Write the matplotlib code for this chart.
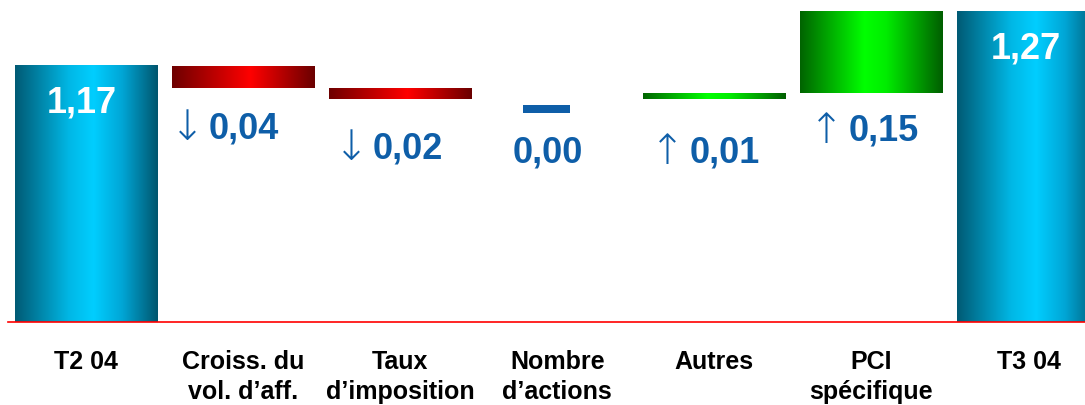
import numpy as np
import matplotlib
matplotlib.use("Agg")
import matplotlib.pyplot as plt
from matplotlib.colors import LinearSegmentedColormap

plt.rcParams["font.family"] = ["Liberation Sans", "DejaVu Sans"]

# ── Data ─────────────────────────────────────────────────────────────────────
categories = ["T2 04", "Croiss. du\nvol. d’aff.", "Taux\nd’imposition",
              "Nombre\nd’actions", "Autres", "PCI\nspécifique", "T3 04"]
start_value = 1.17
deltas = [-0.04, -0.02, 0.00, 0.01, 0.15]
end_value = 1.27

BASE = 0.70
BLUE = "#0e5ea8"

# gradient maps (left → right across each bar)
CYAN = LinearSegmentedColormap.from_list(
    "cyan", [(0, "#005a74"), (0.38, "#00b8e6"), (0.55, "#00ceff"),
             (0.75, "#00a6d6"), (1, "#00566e")])
RED = LinearSegmentedColormap.from_list(
    "red", [(0, "#6e0000"), (0.55, "#ff0000"), (1, "#6a0000")])
GREEN = LinearSegmentedColormap.from_list(
    "green", [(0, "#006400"), (0.45, "#00ff00"), (0.6, "#00ee00"), (1, "#005e00")])

# label nudges in pixels (dx, dy below the bar)
label_offsets = [(1, -40), (8, -49), (-9, -53), (10, -53), (12, -37)]
ARROW_DX = -57

BAR_W = 0.91


def fmt(v):
    return f"{abs(v):.2f}".replace(".", ",")


def gradient_bar(ax, x, y0, y1, cmap):
    grad = np.linspace(0, 1, 256).reshape(1, -1)
    ax.imshow(grad, cmap=cmap, aspect="auto", interpolation="bicubic",
              extent=(x - BAR_W / 2, x + BAR_W / 2, y0, y1), zorder=2)


fig = plt.figure(figsize=(10.85, 4.06), dpi=100)
ax = fig.add_axes([0, 81 / 406, 1, 325 / 406])

x = np.arange(len(categories))

# totals
gradient_bar(ax, x[0], BASE, start_value, CYAN)
gradient_bar(ax, x[-1], BASE, end_value, CYAN)
ax.annotate(fmt(start_value), (x[0], start_value), xytext=(-4, -36),
            textcoords="offset pixels", color="white", fontsize=26,
            fontweight="bold", ha="center", va="center", zorder=3)
ax.annotate(fmt(end_value), (x[-1], end_value), xytext=(-3, -37),
            textcoords="offset pixels", color="white", fontsize=26,
            fontweight="bold", ha="center", va="center", zorder=3)

# steps
level = start_value
for i, d in enumerate(deltas):
    xi = x[i + 1]
    new_level = level + d
    lo, hi = min(level, new_level), max(level, new_level)
    dx, dy = label_offsets[i]
    if d < 0:
        gradient_bar(ax, xi, lo, hi, RED)
        arrow = "↓"
    elif d > 0:
        gradient_bar(ax, xi, lo, hi, GREEN)
        arrow = "↑"
    else:
        ax.bar(xi - 0.07, 0.014, bottom=level - 0.026, width=0.3,
               color=BLUE, zorder=2)
        arrow = None
    ax.annotate(fmt(d), (xi, lo), xytext=(dx, dy), textcoords="offset pixels",
                color=BLUE, fontsize=26, fontweight="bold", ha="center", va="center")
    if arrow:
        ax.annotate(arrow, (xi, lo), xytext=(dx + ARROW_DX, dy + 1),
                    textcoords="offset pixels", color=BLUE, fontsize=30,
                    family="DejaVu Sans", fontweight="light",
                    ha="center", va="center")
    level = new_level

# baseline
ax.axhline(BASE, xmin=8 / 1085, xmax=1, color="#ff0000", lw=1.2, zorder=4)

ax.set_xlim(-0.548, 6.36)
ax.set_ylim(BASE - 2 / 545, BASE + 323 / 545)
ax.set_xticks(x)
ax.set_xticklabels(categories, fontsize=18, fontweight="bold", linespacing=1.3)
ax.tick_params(axis="x", length=0, pad=18)
ax.set_yticks([])
for s in ax.spines.values():
    s.set_visible(False)

fig.savefig("out.png", dpi=100)
